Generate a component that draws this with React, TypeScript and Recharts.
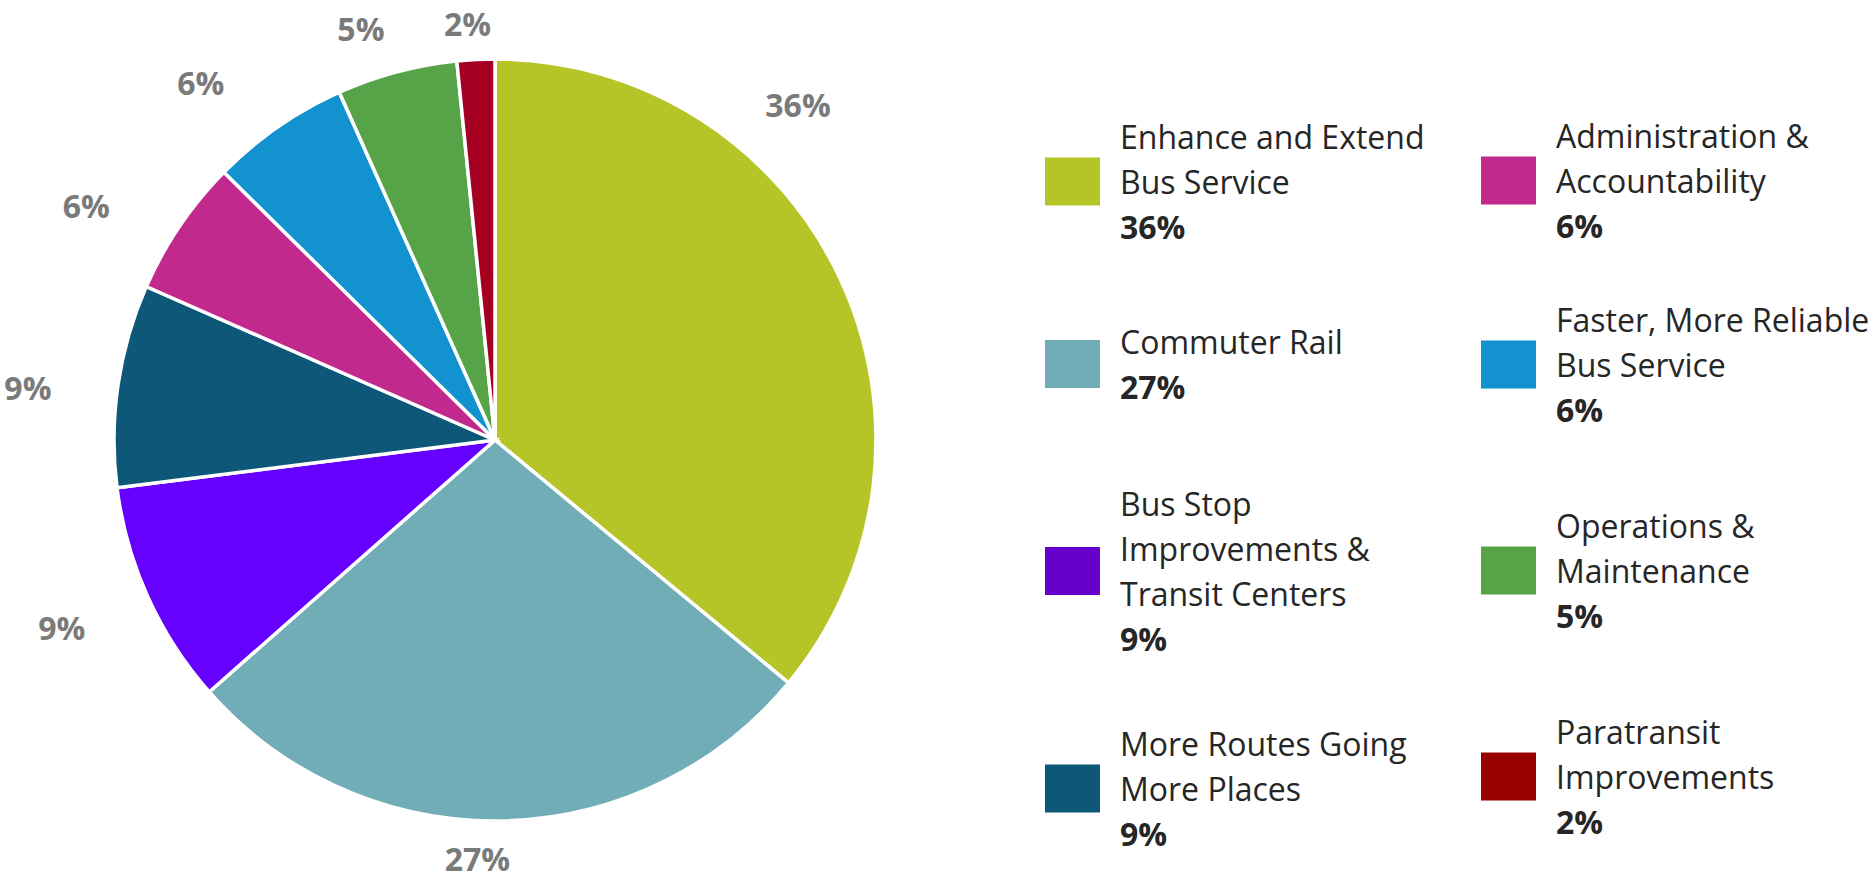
import React from "react";
import { PieChart, Pie, Cell } from "recharts";

// categories, clockwise from 12 o'clock
const CATEGORIES = [
  "Enhance and Extend\nBus Service",
  "Commuter Rail",
  "Bus Stop\nImprovements &\nTransit Centers",
  "More Routes Going\nMore Places",
  "Administration &\nAccountability",
  "Faster, More Reliable\nBus Service",
  "Operations &\nMaintenance",
  "Paratransit\nImprovements",
];
// slice shares
const SHARES = [36, 27.5, 9.5, 8.6, 5.8, 5.9, 5.1, 1.6];
// percentages printed on the chart
const PCT_LABELS = ["36%", "27%", "9%", "9%", "6%", "6%", "5%", "2%"];
const SLICE_COLORS = ["#b5c426", "#71adb7", "#6600ff", "#0d5779", "#c1298c", "#1292cf", "#56a447", "#a50021"];
const LEGEND_COLORS = ["#b5c426", "#71adb7", "#6600cc", "#0d5779", "#c1298c", "#1292cf", "#56a447", "#990000"];

const data = CATEGORIES.map((name, i) => ({ name, value: SHARES[i] }));

// layout
const W = 1874;
const H = 880;
const CX = 495;
const CY = 440;
const R = 381;
const FONT = "'Open Sans', 'Noto Sans', sans-serif";
// label nudges (excel labels were hand placed)
const LABEL_GAP = [71, 38, 91, 89, 90, 82, 52, 36];
const LABEL_TURN = [22.7, -3.3, -0.9, 1.9, 4.4, 4.7, 3.1, 0.9];
const LEGEND_COL_X = [1045, 1481];
const LEGEND_ROW_Y = [
  [181, 364, 571, 788],
  [180, 364, 570, 776],
];

const RAD = Math.PI / 180;

function renderLabel(props: any) {
  const { cx, cy, midAngle, outerRadius, index } = props;
  const a = (midAngle + LABEL_TURN[index]) * RAD;
  const r = outerRadius + LABEL_GAP[index];
  const x = cx + r * Math.cos(a);
  const y = cy - r * Math.sin(a);
  return (
    <text
      x={x}
      y={y}
      textAnchor="middle"
      dominantBaseline="central"
      fill="#7a7a7a"
      fontFamily={FONT}
      fontWeight={700}
      fontSize={32}
    >
      {PCT_LABELS[index]}
    </text>
  );
}

function LegendItem({ i }: { i: number }) {
  const col = i < 4 ? 0 : 1;
  const row = i % 4;
  return (
    <div
      style={{
        position: "absolute",
        left: LEGEND_COL_X[col],
        top: LEGEND_ROW_Y[col][row],
        transform: "translateY(-50%)",
        display: "flex",
        alignItems: "center",
      }}
    >
      <div style={{ width: 55, height: 48, background: LEGEND_COLORS[i], marginRight: 20, flex: "none" }} />
      <div
        style={{
          fontFamily: FONT,
          fontSize: 32,
          lineHeight: "45px",
          color: "#262626",
          whiteSpace: "pre",
        }}
      >
        {CATEGORIES[i]}
        <div style={{ fontWeight: 700 }}>{PCT_LABELS[i]}</div>
      </div>
    </div>
  );
}

export default function App() {
  return (
    <div style={{ position: "absolute", left: 0, top: 0, width: W, height: H, background: "#fff", overflow: "hidden" }}>
      <PieChart width={W} height={H} margin={{ top: 0, right: 0, bottom: 0, left: 0 }}>
        <Pie
          data={data}
          dataKey="value"
          nameKey="name"
          cx={CX}
          cy={CY}
          outerRadius={R}
          startAngle={90}
          endAngle={-270}
          stroke="#ffffff"
          strokeWidth={3.5}
          label={renderLabel}
          labelLine={false}
          isAnimationActive={false}
        >
          {data.map((d, i) => (
            <Cell key={d.name} fill={SLICE_COLORS[i]} />
          ))}
        </Pie>
      </PieChart>
      {CATEGORIES.map((c, i) => (
        <LegendItem key={c} i={i} />
      ))}
    </div>
  );
}
